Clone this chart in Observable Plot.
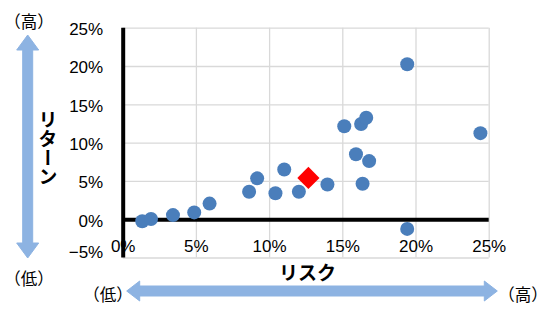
<!DOCTYPE html>
<html>
<head>
<meta charset="utf-8">
<script src="https://cdn.jsdelivr.net/npm/d3@7"></script>
<script src="https://cdn.jsdelivr.net/npm/@observablehq/plot@0.6"></script>
<style>
  html, body { margin: 0; padding: 0; background: white; }
</style>
</head>
<body>
<div id="chart"></div>
<script>
// Data (percent)
const risk   = [1.3, 1.9, 3.4, 4.85, 5.9, 8.6, 9.15, 10.4, 11.0, 12.0, 13.95, 15.1, 15.9, 16.25, 16.6, 16.8, 16.35, 19.4, 19.4, 24.4];
const ret    = [-0.2, 0.1, 0.6, 0.95, 2.1, 3.65, 5.4, 3.45, 6.55, 3.65, 4.6, 12.2, 8.55, 12.5, 13.3, 7.65, 4.7, 20.3, -1.2, 11.3];
const portfolioRisk = [12.65];
const portfolioReturn = [5.45];
const xTicks = [0, 5, 10, 15, 20, 25];
const yTicks = [-5, 0, 5, 10, 15, 20, 25];
const xTitle = "リスク";
const yTitle = "リターン";
const highLabel = "（高）";
const lowLabel = "（低）";

const funds = risk.map((r, i) => ({risk: r, ret: ret[i]}));
const portfolio = portfolioRisk.map((r, i) => ({risk: r, ret: portfolioReturn[i]}));
const pct = d => (d < 0 ? "−" + Math.abs(d) : d) + "%";

const W = 547, H = 309;
const mL = 122.7, mR = 58.3, mT = 27.7, mB = 51.5;

const svg = Plot.plot({
  width: W, height: H,
  marginLeft: mL, marginRight: mR, marginTop: mT, marginBottom: mB,
  style: {fontFamily: "'Liberation Sans', 'Noto Sans CJK JP', sans-serif", fontSize: "17px", color: "black", background: "white"},
  x: {domain: [0, 25], label: null},
  y: {domain: [-5, 25], label: null},
  marks: [
    Plot.gridX(xTicks, {stroke: "#d9d9d9", strokeOpacity: 1, strokeWidth: 1.3}),
    Plot.gridY(yTicks, {stroke: "#d9d9d9", strokeOpacity: 1, strokeWidth: 1.3}),
    Plot.ruleY([0], {stroke: "black", strokeWidth: 4}),
    Plot.ruleX([0], {stroke: "black", strokeWidth: 4}),
    Plot.axisY(yTicks.filter(d => d >= 0), {label: null, tickSize: 0, tickPadding: 20, tickFormat: pct, fontSize: 17, dy: 1.5}),
    Plot.axisY(yTicks.filter(d => d < 0), {label: null, tickSize: 0, tickPadding: 20, tickFormat: pct, fontSize: 17, dy: -5}),
    Plot.axisX(xTicks, {label: null, tickSize: 0, tickPadding: -11.5, lineAnchor: "middle", tickFormat: pct, fontSize: 17}),
    Plot.dot(funds, {x: "risk", y: "ret", r: 7, fill: "#4a7ebb", stroke: "none"}),
    Plot.dot(portfolio, {x: "risk", y: "ret", r: 10, symbol: "diamond2", fill: "#ff0000", stroke: "none"})
  ]
});

document.getElementById("chart").appendChild(svg);

// Decorations: block arrows, titles and (高)/(低) labels
const s = d3.select(svg);
const arrowColor = "#8db3e2";
function vArrow(x, y1, y2, shaft, head, headLen) {
  const a = shaft / 2, b = head / 2;
  return `M${x},${y1} L${x + b},${y1 + headLen} L${x + a},${y1 + headLen} L${x + a},${y2 - headLen} L${x + b},${y2 - headLen} L${x},${y2} L${x - b},${y2 - headLen} L${x - a},${y2 - headLen} L${x - a},${y1 + headLen} L${x - b},${y1 + headLen} Z`;
}
function hArrow(y, x1, x2, shaft, head, headLen) {
  const a = shaft / 2, b = head / 2;
  return `M${x1},${y} L${x1 + headLen},${y - b} L${x1 + headLen},${y - a} L${x2 - headLen},${y - a} L${x2 - headLen},${y - b} L${x2},${y} L${x2 - headLen},${y + b} L${x2 - headLen},${y + a} L${x1 + headLen},${y + a} L${x1 + headLen},${y + b} Z`;
}
s.append("path").attr("d", vArrow(27.7, 35, 258, 10, 22, 15))
  .attr("fill", arrowColor).attr("stroke", arrowColor).attr("stroke-width", 1).attr("stroke-linejoin", "round");
s.append("path").attr("d", hArrow(291, 126.7, 497.3, 10, 20, 13))
  .attr("fill", arrowColor).attr("stroke", arrowColor).attr("stroke-width", 1).attr("stroke-linejoin", "round");

const jp = "'Noto Sans CJK JP', sans-serif";
function label(text, x, y, size, weight) {
  return s.append("text").attr("x", x).attr("y", y)
    .attr("text-anchor", "middle").attr("dominant-baseline", "central")
    .attr("font-family", jp).attr("font-size", size).attr("font-weight", weight || 400)
    .attr("fill", "black").text(text);
}
label(highLabel, 29, 21, 16.5);
label(lowLabel, 29, 278, 16.5);
label(lowLabel, 108, 294, 16.5);
label(highLabel, 523, 294, 16.5);
label(xTitle, 307.5, 271, 19, 700);
s.append("text").attr("x", 48).attr("y", 110)
  .attr("font-family", jp).attr("font-size", 19).attr("font-weight", 700)
  .attr("fill", "black").style("writing-mode", "vertical-rl")
  .attr("text-anchor", "start").text(yTitle);
</script>
</body>
</html>
